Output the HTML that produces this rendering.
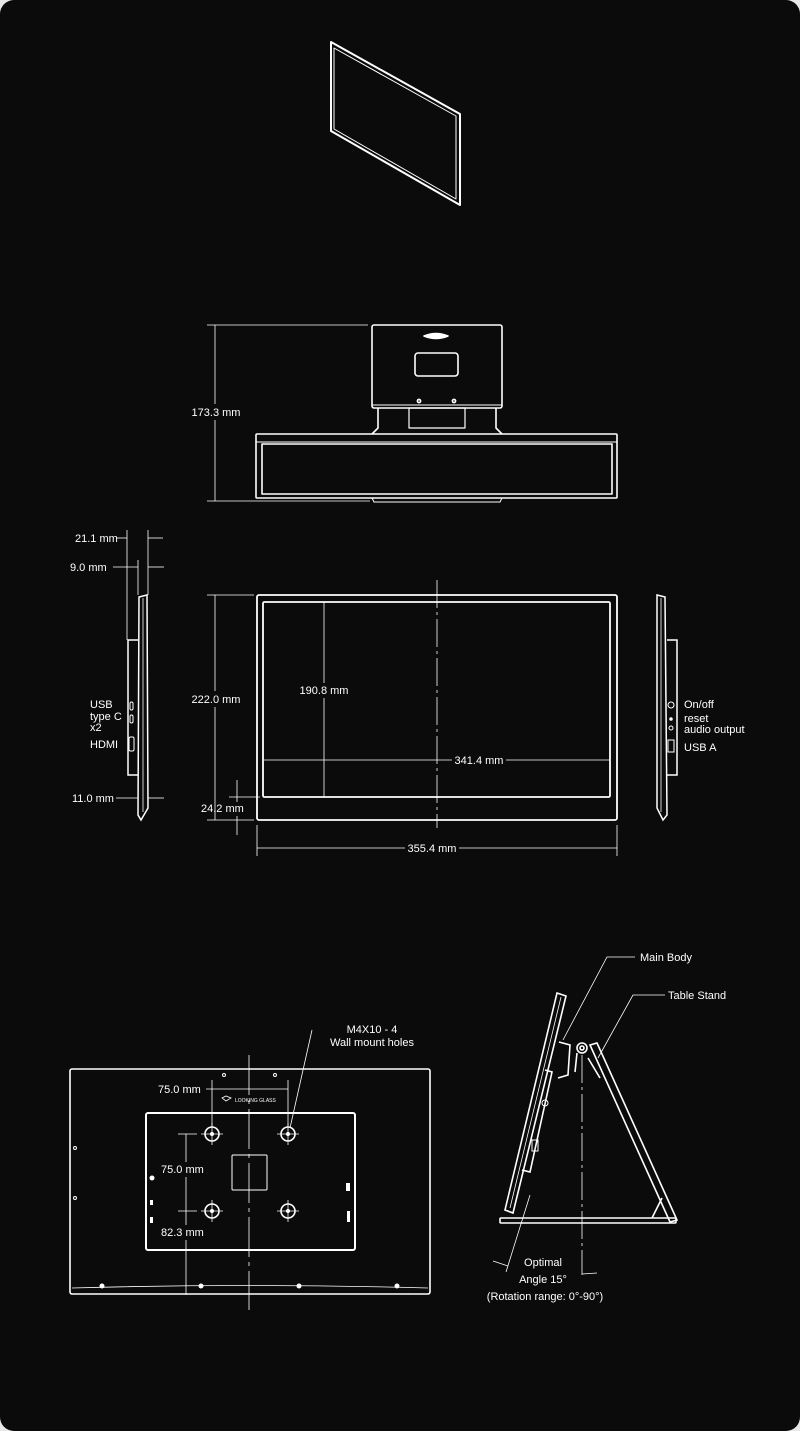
<!DOCTYPE html>
<html><head><meta charset="utf-8"><style>
html,body{margin:0;padding:0;background:#e8e8e8;}
svg{display:block}
text{font-family:"Liberation Sans",sans-serif;font-size:11px;fill:#fff;}
</style></head><body>
<svg width="800" height="1431" viewBox="0 0 800 1431" xmlns="http://www.w3.org/2000/svg">
<rect x="0" y="0" width="800" height="1431" rx="14" fill="#0b0b0b"/>
<g fill="none" stroke="#fff" stroke-width="1.6" stroke-linejoin="round">
<!-- perspective -->
<path d="M331,42 L460,114 L460,205 L331,131 Z" stroke-width="2"/>
<path d="M334,48 L456,116 L456,199 L334,129 Z" stroke-width="1"/>
<!-- top view -->
<rect x="372" y="325" width="130" height="83" rx="2"/>
<line x1="372" y1="405" x2="502" y2="405" stroke-width="1"/>
<path d="M378,408 L378,428 L372,434 M496,408 L496,428 L502,434"/>
<rect x="409" y="408" width="56" height="20" stroke-width="1.2"/>
<rect x="415" y="353" width="43" height="23" rx="3"/>
<path d="M424,336 Q436,331 448,336 Q436,341 424,336 Z" fill="#fff"/>
<circle cx="419" cy="401" r="1.6"/><circle cx="454" cy="401" r="1.6"/>
<rect x="256" y="434" width="361" height="64" rx="1"/>
<line x1="256" y1="442" x2="617" y2="442" stroke-width="1"/>
<rect x="262" y="444" width="350" height="50" stroke-width="1.6"/>
<path d="M372,498 L374,502 L500,502 L502,498" stroke-width="1"/>
</g>
<g stroke="#fff" stroke-width="0.8" fill="none">
<line x1="215" y1="325" x2="215" y2="501"/>
<line x1="207" y1="325" x2="368" y2="325"/>
<line x1="207" y1="501" x2="370" y2="501"/>
</g>
<rect x="190" y="404" width="52" height="16" fill="#0b0b0b"/>
<text x="216" y="416" text-anchor="middle">173.3 mm</text>

<!-- front view -->
<g fill="none" stroke="#fff" stroke-width="1.8">
<rect x="257" y="595" width="360" height="225" rx="2"/>
<rect x="263" y="602" width="347" height="195" rx="1.5"/>
</g>
<g stroke="#fff" stroke-width="0.8" fill="none">
<line x1="437" y1="580" x2="437" y2="828" stroke-dasharray="28,4,3,4"/>
<line x1="215" y1="595" x2="215" y2="820"/>
<line x1="207" y1="595" x2="254" y2="595"/>
<line x1="207" y1="820" x2="254" y2="820"/>
<line x1="324" y1="602" x2="324" y2="797"/>
<line x1="263" y1="760" x2="610" y2="760"/>
<line x1="237" y1="780" x2="237" y2="835"/>
<line x1="229" y1="797" x2="260" y2="797"/>
<line x1="257" y1="825" x2="257" y2="856"/>
<line x1="617" y1="825" x2="617" y2="856"/>
<line x1="257" y1="848" x2="617" y2="848"/>
</g>
<rect x="186" y="691" width="60" height="16" fill="#0b0b0b"/>
<text x="216" y="703" text-anchor="middle">222.0 mm</text>
<rect x="296" y="683" width="56" height="15" fill="#0b0b0b"/>
<text x="324" y="694" text-anchor="middle">190.8 mm</text>
<rect x="452" y="753" width="54" height="15" fill="#0b0b0b"/>
<text x="479" y="764" text-anchor="middle">341.4 mm</text>
<rect x="216" y="802" width="34" height="14" fill="#0b0b0b"/>
<text x="201" y="812">24.2 mm</text>
<rect x="405" y="841" width="54" height="15" fill="#0b0b0b"/>
<text x="432" y="852" text-anchor="middle">355.4 mm</text>

<!-- left side view -->
<g fill="none" stroke="#fff" stroke-width="1.5">
<path d="M139,597 L147,595 L148,808 L141,820 L138,815 Z"/>
<line x1="143" y1="598" x2="143" y2="812" stroke-width="0.8"/>
<path d="M138,640 L128,640 L128,775 L138,775"/>
<rect x="130" y="702" width="3" height="8" rx="1.5" stroke-width="1"/>
<rect x="130" y="715" width="3" height="8" rx="1.5" stroke-width="1"/>
<rect x="129" y="737" width="5" height="14" rx="1.5" stroke-width="1"/>
</g>
<g stroke="#fff" stroke-width="0.8">
<line x1="127" y1="530" x2="127" y2="640"/>
<line x1="148" y1="530" x2="148" y2="595"/>
<line x1="138" y1="560" x2="138" y2="595"/>
<line x1="117" y1="538" x2="127" y2="538"/><line x1="148" y1="538" x2="163" y2="538"/>
<line x1="113" y1="567" x2="138" y2="567"/><line x1="148" y1="567" x2="164" y2="567"/>
<line x1="116" y1="798" x2="138" y2="798"/><line x1="148" y1="798" x2="164" y2="798"/>
</g>
<text x="75" y="542">21.1 mm</text>
<text x="70" y="571">9.0 mm</text>
<text x="72" y="802">11.0 mm</text>
<text x="90" y="708">USB</text>
<text x="90" y="720">type C</text>
<text x="90" y="731">x2</text>
<text x="90" y="748">HDMI</text>

<!-- right side view -->
<g fill="none" stroke="#fff" stroke-width="1.5">
<path d="M665,597 L657,595 L657,808 L663,820 L667,815 Z"/>
<line x1="661" y1="598" x2="661" y2="812" stroke-width="0.8"/>
<path d="M667,640 L677,640 L677,775 L667,775"/>
<circle cx="671" cy="705" r="3" stroke-width="1"/>
<circle cx="671" cy="719" r="1" fill="#fff"/>
<circle cx="671" cy="728" r="2" stroke-width="1"/>
<rect x="668" y="740" width="6" height="12" stroke-width="1"/>
</g>
<text x="684" y="708">On/off</text>
<text x="684" y="722">reset</text>
<text x="684" y="733">audio output</text>
<text x="684" y="751">USB A</text>

<!-- back view -->
<g fill="none" stroke="#fff" stroke-width="1.6">
<rect x="70" y="1069" width="360" height="225" rx="2"/>
<path d="M72,1288 Q250,1283 428,1288" stroke-width="0.8"/>
<rect x="146" y="1113" width="209" height="137" rx="2" stroke-width="2"/>
<rect x="232" y="1155" width="35" height="35" rx="1" stroke-width="1"/>
<circle cx="212" cy="1134" r="7"/><circle cx="288" cy="1134" r="7"/>
<circle cx="212" cy="1211" r="7"/><circle cx="288" cy="1211" r="7"/>
<circle cx="224" cy="1075" r="1.5" stroke-width="1"/><circle cx="275" cy="1075" r="1.5" stroke-width="1"/>
<circle cx="75" cy="1148" r="1.5" stroke-width="1"/><circle cx="75" cy="1198" r="1.5" stroke-width="1"/>
</g>
<g fill="#fff">
<circle cx="102" cy="1286" r="2.5"/><circle cx="201" cy="1286" r="2.5"/>
<circle cx="299" cy="1286" r="2.5"/><circle cx="397" cy="1286" r="2.5"/>
<circle cx="212" cy="1134" r="2"/><circle cx="288" cy="1134" r="2"/>
<circle cx="212" cy="1211" r="2"/><circle cx="288" cy="1211" r="2"/>
<circle cx="152" cy="1178" r="2.5"/>
<rect x="150" y="1200" width="3" height="5"/><rect x="150" y="1217" width="3" height="6"/>
<rect x="346" y="1183" width="4" height="8"/><rect x="347" y="1211" width="3" height="11"/>
</g>
<g stroke="#fff" stroke-width="0.8" fill="none">
<line x1="249" y1="1055" x2="249" y2="1310" stroke-dasharray="40,5,4,5"/>
<path d="M201,1134 H223 M212,1123 V1145 M277,1134 H299 M288,1123 V1145 M201,1211 H223 M212,1200 V1222 M277,1211 H299 M288,1200 V1222"/>
<line x1="212" y1="1080" x2="212" y2="1126"/><line x1="288" y1="1080" x2="288" y2="1126"/>
<line x1="206" y1="1089" x2="288" y2="1089"/>
<line x1="186" y1="1134" x2="186" y2="1295"/>
<line x1="178" y1="1134" x2="197" y2="1134"/><line x1="178" y1="1211" x2="197" y2="1211"/>
<line x1="312" y1="1030" x2="290" y2="1128"/>
<path d="M222,1098 L226,1096 L231,1098 L226,1101 Z"/>
</g>
<text x="158" y="1093">75.0 mm</text>
<rect x="160" y="1162" width="50" height="15" fill="#0b0b0b"/>
<text x="161" y="1173">75.0 mm</text>
<rect x="160" y="1225" width="50" height="15" fill="#0b0b0b"/>
<text x="161" y="1236">82.3 mm</text>
<text x="235" y="1102" style="font-size:5px">LOOKING GLASS</text>
<text x="372" y="1033" text-anchor="middle">M4X10 - 4</text>
<text x="372" y="1046" text-anchor="middle">Wall mount holes</text>

<!-- stand side view -->
<g fill="none" stroke="#fff" stroke-width="1.6">
<path d="M557,993 L566,996 L513,1213 L505,1210 Z"/>
<line x1="561" y1="997" x2="510" y2="1208" stroke-width="0.8"/>
<path d="M559,1042 L570,1045 L568,1075 L558,1078"/>
<path d="M545,1070 L552,1072 L530,1172 L522,1170"/>
<circle cx="582" cy="1048" r="5"/>
<circle cx="582" cy="1048" r="2"/>
<path d="M590,1045 L597,1043 L677,1220 L670,1222 Z"/>
<path d="M588,1058 L600,1078 M577,1053 L575,1072"/>
<rect x="500" y="1218" width="176" height="5" rx="1"/>
<path d="M652,1218 L662,1198"/>
<circle cx="545" cy="1103" r="3" stroke-width="1"/>
<rect x="532" y="1140" width="6" height="11" stroke-width="1"/>
</g>
<g stroke="#fff" stroke-width="0.8" fill="none">
<line x1="582" y1="1055" x2="582" y2="1275" stroke-dasharray="28,4,3,4"/>
<line x1="582" y1="1274" x2="597" y2="1273"/>
<line x1="530" y1="1195" x2="506" y2="1272"/>
<line x1="493" y1="1261" x2="508" y2="1266"/>
<polyline points="635,957 607,957 563,1040"/>
<polyline points="665,995 633,995 598,1058"/>
</g>
<text x="640" y="961">Main Body</text>
<text x="668" y="999">Table Stand</text>
<text x="543" y="1266" text-anchor="middle">Optimal</text>
<text x="543" y="1283" text-anchor="middle">Angle 15°</text>
<text x="545" y="1300" text-anchor="middle">(Rotation range: 0°-90°)</text>
</svg>
</body></html>
